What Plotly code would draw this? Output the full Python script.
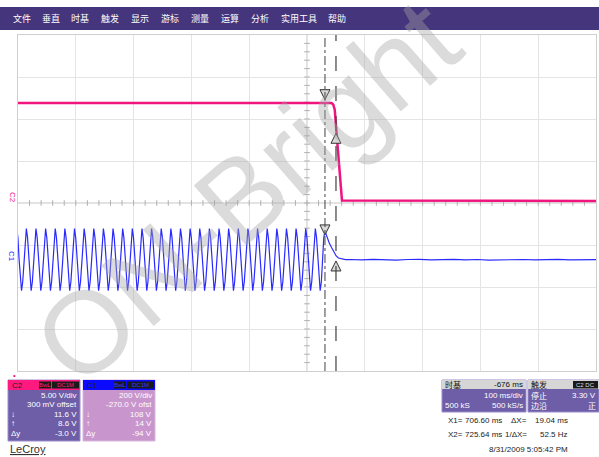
import plotly.graph_objects as go

# ---------------- data ----------------
# Channel C2 (5.00 V/div, 300 mV offset): supply rail collapsing
c2_ms = [175.5, 718.0, 721.0, 723.5, 726.0, 731.0, 736.0, 1175.5]
c2_v = [11.6, 11.6, 11.4, 10.8, 8.6, 4.3, 0.0, -0.05]

# Channel C1 (200 V/div, -270 V offset): AC line, one 60 Hz cycle starting at a crest
ac_period_ms = 16.667
ac_cycle_v = [148, 105, 0, -105, -148, -105, 0, 105]
ac_cycles = 32
ac_last_crest_ms = 706.6

# C1 after the AC is removed
c1_decay_ms = [706.6, 710.0, 714.0, 718.0, 722.0, 726.0, 730.0, 736.0, 742.0]
c1_decay_v = [136, 105, 80, 58, 38, 18, 8, 3, 0]
c1_tail_ms = [750, 770, 790, 810, 830, 850, 870, 890, 910, 930, 950, 970,
              990, 1010, 1030, 1050, 1070, 1090, 1110, 1130, 1150, 1175.5]
c1_tail_v = [1, -1, 2, 0, -2, 1, 2, -1, 0, 2, -1, 1,
             -2, 0, 2, 1, -1, 0, 2, -1, 1, 0]

# Cursors
x1_ms, x2_ms = 706.60, 725.64
c2_at_x1, c2_at_x2 = 11.6, 8.6
c1_at_x1, c1_at_x2 = 108, 14

menu_items = ["文件", "垂直", "时基", "触发", "显示", "游标", "测量", "运算", "分析", "实用工具", "帮助"]
menu_x = [12, 41, 70, 100, 130, 160, 190, 220, 250, 280, 327]

# ---------------- geometry ----------------
W, H = 599, 457
L, R, T, B = 18, 596, 35, 371
t_left = 175.5
ms_div = 100.0
c2_center, c2_vdiv = -0.3, 5.0
c1_center, c1_vdiv = 270.0, 200.0


def px(x):
    return (x - L) / (R - L)


def py(y):
    return (B - y) / (B - T)


# build the AC waveform samples
c1_ms, c1_v = [], []
start = ac_last_crest_ms - ac_cycles * ac_period_ms
for k in range(ac_cycles):
    for j, v in enumerate(ac_cycle_v):
        c1_ms.append(start + k * ac_period_ms + j * ac_period_ms / len(ac_cycle_v))
        c1_v.append(v)
c1_ms += c1_decay_ms + c1_tail_ms
c1_v += c1_decay_v + c1_tail_v

fig = go.Figure()

# centre axes with minor ticks
x_mid = t_left + 5 * ms_div
fig.add_shape(type="line", x0=t_left, x1=t_left + 10 * ms_div, y0=c2_center, y1=c2_center,
              xref="x", yref="y", line=dict(color="#c4c4c4", width=1), layer="below")
fig.add_shape(type="line", x0=x_mid, x1=x_mid, y0=c2_center - 20, y1=c2_center + 20,
              xref="x", yref="y", line=dict(color="#c4c4c4", width=1), layer="below")
tick_x = [t_left + i * ms_div / 5 for i in range(1, 50)]
tick_y = [c2_center - 20 + i * c2_vdiv / 5 for i in range(1, 40)]
fig.add_trace(go.Scatter(x=tick_x, y=[c2_center] * len(tick_x), mode="markers",
                         marker=dict(symbol="line-ns", size=4, line=dict(color="#b0b0b0", width=1)),
                         hoverinfo="skip", showlegend=False))
fig.add_trace(go.Scatter(x=[x_mid] * len(tick_y), y=tick_y, mode="markers",
                         marker=dict(symbol="line-ew", size=4, line=dict(color="#b0b0b0", width=1)),
                         hoverinfo="skip", showlegend=False))

# waveforms
fig.add_trace(go.Scatter(x=c1_ms, y=c1_v, yaxis="y2", mode="lines",
                         line=dict(color="#2a2aff", width=1.2), showlegend=False))
fig.add_trace(go.Scatter(x=c2_ms, y=c2_v, mode="lines",
                         line=dict(color="#f0147f", width=2.5), showlegend=False))

# cursor lines
fig.add_shape(type="line", x0=x1_ms, x1=x1_ms, y0=0, y1=1, xref="x", yref="paper",
              line=dict(color="#404040", width=1, dash="dashdot"))
fig.add_shape(type="line", x0=x2_ms, x1=x2_ms, y0=0, y1=1, xref="x", yref="paper",
              line=dict(color="#404040", width=1.2, dash="longdash"))

# cursor markers
mk = dict(size=10, color="#d8d8d8", line=dict(color="#333333", width=1))
fig.add_trace(go.Scatter(x=[x1_ms], y=[c2_at_x1 + 0.4], mode="markers",
                         marker=dict(symbol="arrow-down", **mk), showlegend=False))
fig.add_trace(go.Scatter(x=[x2_ms], y=[c2_at_x2 - 0.6], mode="markers",
                         marker=dict(symbol="arrow-up", **mk), showlegend=False))
fig.add_trace(go.Scatter(x=[x1_ms], y=[c1_at_x1 + 10], yaxis="y2", mode="markers",
                         marker=dict(symbol="arrow-down", **mk), showlegend=False))
fig.add_trace(go.Scatter(x=[x2_ms], y=[c1_at_x2 - 20], yaxis="y2", mode="markers",
                         marker=dict(symbol="arrow-up", **mk), showlegend=False))

shapes = []
ann = []
LAT = "Liberation Sans, Arial, sans-serif"
CJK = "Noto Sans CJK SC"


def rect(x0, y0, x1, y1, fill, line=None, lw=0):
    shapes.append(dict(type="rect", xref="paper", yref="paper",
                       x0=px(x0), x1=px(x1), y0=py(y1), y1=py(y0),
                       fillcolor=fill, line=dict(color=line or fill, width=lw), layer="above"))


def text(x, y, s, size=8, color="white", anchor="left", font=LAT, **kw):
    ann.append(dict(x=px(x), y=py(y), xref="paper", yref="paper", text=s, showarrow=False,
                    xanchor=anchor, yanchor="middle", font=dict(size=size, color=color, family=font),
                    borderpad=0, **kw))


# watermark (first, so the panel texts sit on top of it)
ann.append(dict(x=px(247), y=py(192), xref="paper", yref="paper", text="ON-Bright",
                showarrow=False, textangle=-41, xanchor="center", yanchor="middle",
                font=dict(size=116, color="rgba(165,165,165,0.4)", family=LAT)))

# menu bar
rect(0, 7, 599, 30, "#45357c")
for s, x in zip(menu_items, menu_x):
    text(x, 18.5, s, size=9, color="white", font=CJK)

# ground markers
text(12, 197, "C2", size=8, color="#f0147f", anchor="center", textangle=90)
text(12, 256, "C1", size=8, color="#1a1aff", anchor="center", textangle=90)
text(14, 375, "•", size=8, color="#f0147f", anchor="center")

# C2 panel
rect(8, 380, 80, 441, "#6e5ea8", line="#9a8ccc", lw=1)
rect(8, 380, 80, 390, "#ff1a80")
text(11, 385, "C2", size=8, color="#222222")
rect(39, 381.5, 51, 388.5, "#1a1a1a")
rect(52, 381.5, 79, 388.5, "#1a1a1a")
text(45, 385, "BwL", size=6, color="#ff1a80", anchor="center")
text(65.5, 385, "DC1M", size=6, color="#ff1a80", anchor="center")
for y, s in zip([395, 404.5, 414, 423.5, 433], ["5.00 V/div", "300 mV offset", "11.6 V", "8.6 V", "-3.0 V"]):
    text(78, y, s, anchor="right")
for y, s in zip([414, 423.5, 433], ["↓", "↑", "Δy"]):
    text(10, y, s)

# C1 panel
rect(83, 380, 155, 441, "#c896cc", line="#d8b8dc", lw=1)
rect(83, 380, 155, 390, "#0a0aff")
text(86, 385, "C1", size=8, color="#222222")
rect(114, 381.5, 126, 388.5, "#1a1a1a")
rect(127, 381.5, 154, 388.5, "#1a1a1a")
text(120, 385, "BwL", size=6, color="#3a3aff", anchor="center")
text(140.5, 385, "DC1M", size=6, color="#3a3aff", anchor="center")
for y, s in zip([395, 404.5, 414, 423.5, 433], ["200 V/div", "-270.0 V ofst", "108 V", "14 V", "-94 V"]):
    text(153, y, s, anchor="right")
for y, s in zip([414, 423.5, 433], ["↓", "↑", "Δy"]):
    text(85, y, s)

# timebase panel
rect(442, 380, 526, 412, "#6e5ea8", line="#9a8ccc", lw=1)
rect(442, 380, 526, 389, "#d6d6d6")
text(444, 384.5, "时基", size=8, color="#111111", font=CJK)
text(524, 384.5, "-676 ms", size=8, color="#111111", anchor="right")
text(524, 395, "100 ms/div", anchor="right")
text(444, 405, "500 kS")
text(524, 405, "500 kS/s", anchor="right")

# trigger panel
rect(528, 380, 599, 412, "#6e5ea8", line="#9a8ccc", lw=1)
rect(528, 380, 599, 389, "#d6d6d6")
text(530, 384.5, "触发", size=8, color="#111111", font=CJK)
rect(573, 381, 598, 388.5, "#1a1a1a")
text(585.5, 384.8, "C2 DC", size=6, color="#dddddd", anchor="center")
text(530, 395, "停止", size=8, font=CJK)
text(597, 395, "3.30 V", anchor="right")
text(530, 405, "边沿", size=8, font=CJK)
text(597, 405, "正", anchor="right", font=CJK)

# cursor readout
text(447, 420, "X1=", color="#222222")
text(503, 420, "706.60 ms", color="#222222", anchor="right")
text(528, 420, "ΔX=", color="#222222", anchor="right")
text(569, 420, "19.04 ms", color="#222222", anchor="right")
text(447, 434, "X2=", color="#222222")
text(503, 434, "725.64 ms", color="#222222", anchor="right")
text(528, 434, "1/ΔX=", color="#222222", anchor="right")
text(569, 434, "52.5 Hz", color="#222222", anchor="right")
text(569, 449, "8/31/2009 5:05:42 PM", color="#222222", anchor="right")

# logo
text(9, 449, "<u>LeCroy</u>", size=11, color="#333333")

fig.update_layout(
    width=W, height=H,
    margin=dict(l=L, r=W - R, t=T, b=H - B),
    paper_bgcolor="white", plot_bgcolor="white",
    showlegend=False,
    xaxis=dict(range=[t_left, t_left + 10 * ms_div], tick0=t_left, dtick=ms_div,
               showgrid=True, gridcolor="#e4e4e4", gridwidth=1, zeroline=False,
               showticklabels=False, ticks="", showline=True, linecolor="#cfcfcf", mirror=True),
    yaxis=dict(range=[c2_center - 4 * c2_vdiv, c2_center + 4 * c2_vdiv], tick0=c2_center, dtick=c2_vdiv,
               showgrid=True, gridcolor="#e4e4e4", gridwidth=1, zeroline=False,
               showticklabels=False, ticks="", showline=True, linecolor="#cfcfcf", mirror=True),
    yaxis2=dict(range=[c1_center - 4 * c1_vdiv, c1_center + 4 * c1_vdiv], overlaying="y",
                showgrid=False, zeroline=False, showticklabels=False, ticks=""),
    shapes=list(fig.layout.shapes) + shapes,
    annotations=ann,
)

fig.write_html("out.html")
